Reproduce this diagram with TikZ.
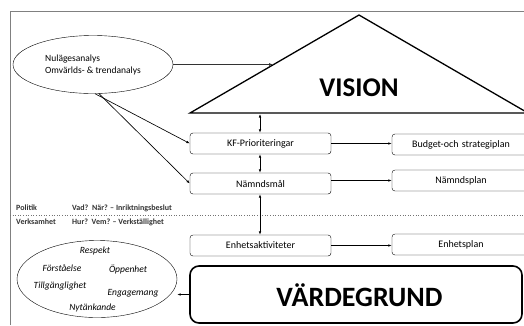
\documentclass[tikz,border=0pt]{standalone}
\usepackage{fontspec}
\setmainfont{Carlito}
\usetikzlibrary{arrows.meta,shapes.geometric,calc}
\begin{document}
\begin{tikzpicture}[x=1pt,y=-1pt,
  box/.style={draw, rounded corners=3pt, minimum height=21pt, inner sep=0pt, font=\fontsize{10}{11}\selectfont},
  arr/.style={-{Latex[length=3.5pt,width=2.6pt]}, line width=0.65pt},
  darr/.style={{Latex[length=3.5pt,width=2.6pt]}-{Latex[length=3.5pt,width=2.6pt]}, line width=0.65pt},
  val/.style={font=\itshape\fontsize{9.5}{10}\selectfont, inner sep=0pt},
  lab/.style={font=\bfseries\fontsize{8}{9}\selectfont, anchor=west, inner sep=0pt, text=black!80}]
\useasboundingbox (0,0) rectangle (524,325);
\clip (0,0) rectangle (524,325);
% frame
\draw[black!50, line width=0.8pt] (10,325) -- (10,11) -- (530,11);
% triangle
\draw[line width=1.3pt, line join=miter] (190,113) -- (359,15) -- (528,113) -- cycle;
\node[font=\bfseries\fontsize{27}{28}\selectfont, inner sep=0pt] (vision) at (359,88) {VISION};
\coordinate (visbase) at (260,114);
\coordinate (visleft) at (273,64.5);
% top ellipse
\node[draw, ellipse, minimum width=160pt, minimum height=58pt, inner sep=0pt, align=left,
      font=\fontsize{9.5}{12}\selectfont] (ana) at (93,64.5) {Nulägesanalys\\Omvärlds- \& trendanalys};
% connector ellipse -> triangle
\draw[black!80, line width=0.8pt, -{Latex[length=4pt,width=3pt]}] (ana) -- (visleft);
% boxes
\node[box, minimum width=141pt] (kf) at (260.5,143.5) {KF-Prioriteringar};
\node[box, minimum width=141pt] (nm) at (260.5,183.5) {Nämndsmål};
\node[box, minimum width=141pt] (ea) at (260.5,245.5) {Enhetsaktiviteter};
\node[box, minimum width=138pt, text width=126pt, align=center] (bs) at (461,144.5) {Budget-och strategiplan};
\node[box, minimum width=138pt, text width=126pt, align=center] (np) at (461,180.5) {Nämndsplan};
\node[box, minimum width=138pt, text width=126pt, align=center] (ep) at (461,244.5) {Enhetsplan};
\node[draw, line width=1.6pt, rounded corners=9pt, minimum width=332pt, minimum height=57pt, inner sep=0pt] (vg) at (356,294.5) {};
\node[font=\bfseries\fontsize{28}{30}\selectfont, inner sep=0pt] (vgt) at (359.5,295) {VÄRDEGRUND};
% values ellipse
\node[draw, ellipse, minimum width=160pt, minimum height=77pt, inner sep=0pt] (vals) at (97,279) {};
\node[val] (v1) at (95,251) {Respekt};
\node[val] (v2) at (62,268) {Förståelse};
\node[val] (v3) at (128,269) {Öppenhet};
\node[val] (v4) at (60,286) {Tillgänglighet};
\node[val] (v5) at (133,293) {Engagemang};
\node[val] (v6) at (92.5,308) {Nytänkande};
% politik / verksamhet
\draw[black!55, dotted, line width=0.6pt] (10,215) -- (530,215);
\node[lab] (pol) at (16,208) {Politik};
\node[lab] (polt) at (72,208) {Vad?\ \ När? – Inriktningsbeslut};
\node[lab] (ver) at (16,222) {Verksamhet};
\node[lab] (vert) at (72,222) {Hur?\ \ Vem? – Verkställighet};
% connectors
\draw[arr] ($(ana.south)+(2,0)$) -- (kf.west);
\draw[arr] ($(ana.south)+(6,0)$) -- (nm.west);
\draw[darr] (visbase) -- (visbase |- kf.north);
\draw[darr] (kf.south -| visbase) -- (nm.north -| visbase);
\draw[darr] (nm.south -| visbase) -- (ea.north -| visbase);
\draw[arr] (kf.east) -- (kf.east -| bs.west);
\draw[arr] (nm.east |- np.west) -- (np.west);
\draw[arr] (ea.east) -- (ea.east -| ep.west);
\draw[arr] (vg.west) -- (vg.west -| vals.east);
\end{tikzpicture}
\end{document}
